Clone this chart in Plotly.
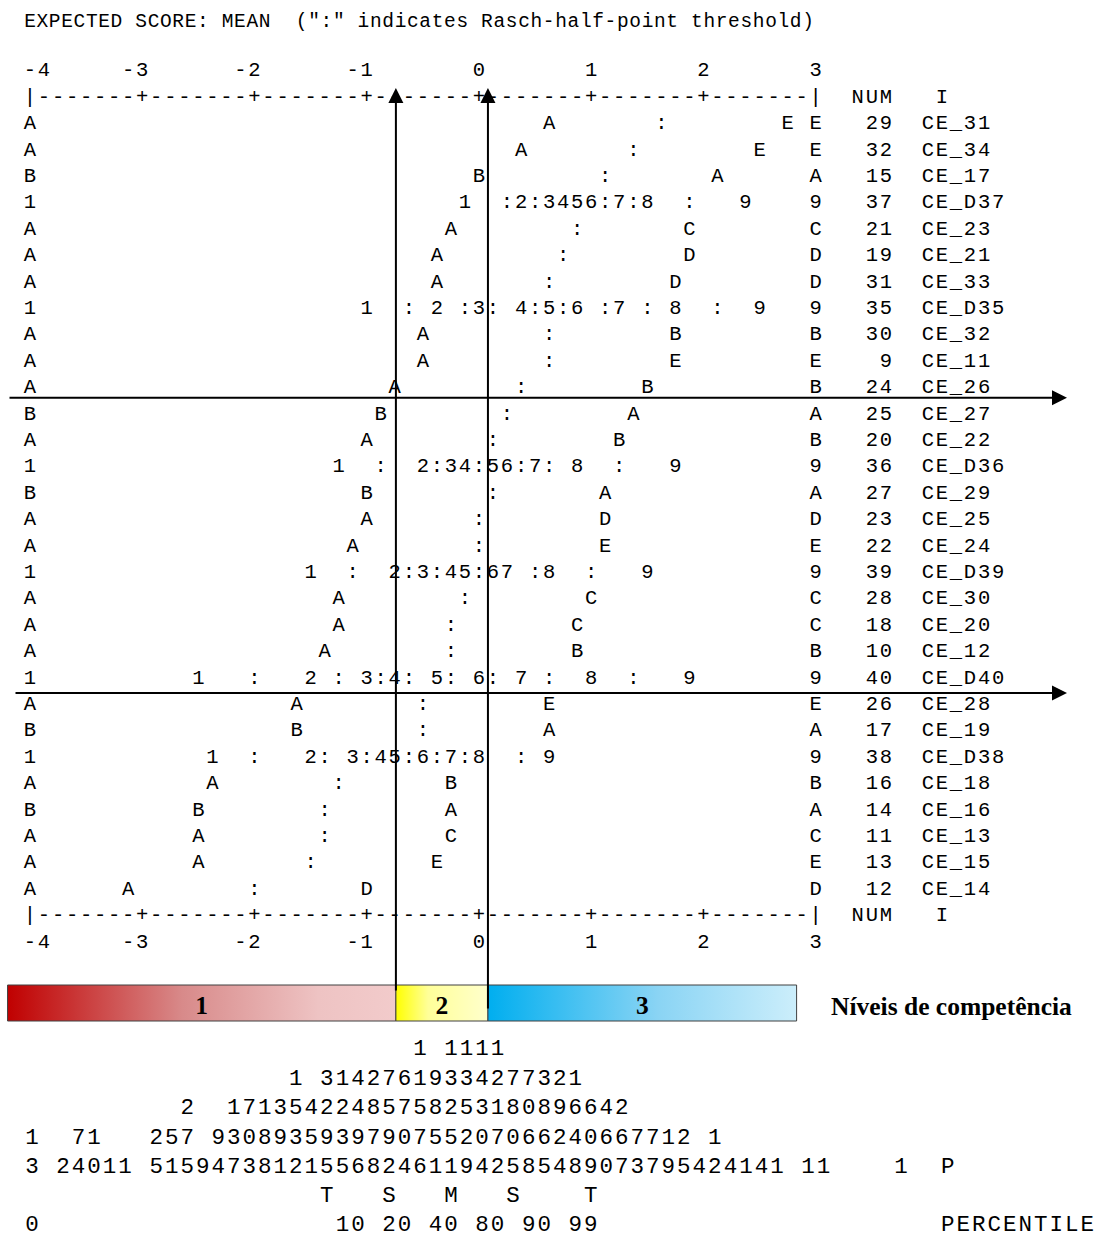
import plotly.graph_objects as go

# ---------------------------------------------------------------- data ----
TICKS = [-4, -3, -2, -1, 0, 1, 2, 3]
COLS_PER_LOGIT = 8          # one printed character = 1/8 logit

HEADER = 'EXPECTED SCORE: MEAN  (":" indicates Rasch-half-point threshold)'

ITEM_NUM = [29, 32, 15, 37, 21, 19, 31, 35, 30, 9, 24, 25, 20, 36, 27,
            23, 22, 39, 28, 18, 10, 40, 26, 17, 38, 16, 14, 11, 13, 12]
ITEM_NAME = ["CE_31", "CE_34", "CE_17", "CE_D37", "CE_23", "CE_21", "CE_33",
             "CE_D35", "CE_32", "CE_11", "CE_26", "CE_27", "CE_22", "CE_D36",
             "CE_29", "CE_25", "CE_24", "CE_D39", "CE_30", "CE_20", "CE_12",
             "CE_D40", "CE_28", "CE_19", "CE_D38", "CE_18", "CE_16", "CE_13",
             "CE_15", "CE_14"]
LOW_CODE = "AAB1AAA1AAABA1BAA1AAA1AB1ABAAA"
HIGH_CODE = "EEA9CDD9BEBAB9ADE9CCB9EA9BACED"

# expected-score marks per item: (logit where the text starts, text)
ITEM_MARKS = [
    [(0.625, "A"), (1.625, ":"), (2.75, "E")],
    [(0.375, "A"), (1.375, ":"), (2.5, "E")],
    [(0.0, "B"), (1.125, ":"), (2.125, "A")],
    [(-0.125, "1"), (0.25, ":2:3456:7:8"), (1.875, ":"), (2.375, "9")],
    [(-0.25, "A"), (0.875, ":"), (1.875, "C")],
    [(-0.375, "A"), (0.75, ":"), (1.875, "D")],
    [(-0.375, "A"), (0.625, ":"), (1.75, "D")],
    [(-1.0, "1"), (-0.625, ":"), (-0.375, "2"), (-0.125, ":3: 4:5:6 :7 : 8"),
     (2.125, ":"), (2.5, "9")],
    [(-0.5, "A"), (0.625, ":"), (1.75, "B")],
    [(-0.5, "A"), (0.625, ":"), (1.75, "E")],
    [(-0.75, "A"), (0.375, ":"), (1.5, "B")],
    [(-0.875, "B"), (0.25, ":"), (1.375, "A")],
    [(-1.0, "A"), (0.125, ":"), (1.25, "B")],
    [(-1.25, "1"), (-0.875, ":"), (-0.5, "2:34:56:7:"), (0.875, "8"),
     (1.25, ":"), (1.75, "9")],
    [(-1.0, "B"), (0.125, ":"), (1.125, "A")],
    [(-1.0, "A"), (0.0, ":"), (1.125, "D")],
    [(-1.125, "A"), (0.0, ":"), (1.125, "E")],
    [(-1.5, "1"), (-1.125, ":"), (-0.75, "2:3:45:67 :8"), (1.0, ":"), (1.5, "9")],
    [(-1.25, "A"), (-0.125, ":"), (1.0, "C")],
    [(-1.25, "A"), (-0.25, ":"), (0.875, "C")],
    [(-1.375, "A"), (-0.25, ":"), (0.875, "B")],
    [(-2.5, "1"), (-2.0, ":"), (-1.5, "2 : 3:4: 5: 6: 7 :"), (1.0, "8"),
     (1.375, ":"), (1.875, "9")],
    [(-1.625, "A"), (-0.5, ":"), (0.625, "E")],
    [(-1.625, "B"), (-0.5, ":"), (0.625, "A")],
    [(-2.375, "1"), (-2.0, ":"), (-1.5, "2: 3:45:6:7:8"), (0.375, ":"), (0.625, "9")],
    [(-2.375, "A"), (-1.25, ":"), (-0.25, "B")],
    [(-2.5, "B"), (-1.375, ":"), (-0.25, "A")],
    [(-2.5, "A"), (-1.375, ":"), (-0.25, "C")],
    [(-2.5, "A"), (-1.5, ":"), (-0.375, "E")],
    [(-3.125, "A"), (-2.0, ":"), (-1.0, "D")],
]

# person distribution and percentiles printed under the map
DIST_ROWS = [
    " " * 25 + "1 1111",
    " " * 17 + "1 31427619334277321",
    " " * 10 + "2  17135422485758253180896642",
    "1  71   257 9308935939790755207066240667712 1",
    "3 24011 51594738121556824611942585489073795424141 11    1  P",
    " " * 19 + "T   S   M   S    T",
    "0" + " " * 19 + "10 20 40 80 90 99" + " " * 22 + "PERCENTILE",
]

# competence levels: cut points on the logit scale
LEVEL_NAMES = ["1", "2", "3"]
LEVEL_EDGES = [-4.2, -0.74, 0.08, 2.83]
LEVEL_COLORS = [
    [[0, "#C00000"], [0.45, "#D88A8A"], [0.8, "#EEC3C3"], [1, "#F2CBCB"]],
    [[0, "#FFFF00"], [0.35, "#FFFF99"], [1, "#FFFFCC"]],
    [[0, "#00AEEF"], [0.55, "#8AD4F4"], [1, "#CCEEFB"]],
]
LEVEL_TITLE = "Níveis de competência"
LEVEL_BREAK_ROWS = [11.37, 22.55]     # horizontal separators between item groups

# ---------------------------------------------------------------- layout --
W, H = 1101, 1234
PX_PER_LOGIT = 112.24          # 8 map columns of 14.03 px
ORIGIN_PX = 30                 # pixel of logit -4
ROW_PX, ROW1_PX = 26.4, 124    # map row pitch and first item row


def px_to_logit(px):
    return -4 + (px - ORIGIN_PX) / PX_PER_LOGIT


def px_to_row(py):
    return (py - ROW1_PX) / ROW_PX + 1


MONO = "Liberation Mono, Courier New, monospace"
SERIF = "Liberation Serif, Times New Roman, serif"

map_x, map_y, map_t = [], [], []


def put(logit, row, text):
    for i, ch in enumerate(text):
        if ch != " ":
            map_x.append(logit + i / COLS_PER_LOGIT)
            map_y.append(row)
            map_t.append(ch)


lo, hi = TICKS[0], TICKS[-1]
n_cols = (hi - lo) * COLS_PER_LOGIT


def scale_rows(rule_row, label_row):
    rule = "".join("|" if c in (0, n_cols) else ("+" if c % COLS_PER_LOGIT == 0 else "-")
                   for c in range(n_cols + 1))
    put(lo, rule_row, rule)
    put(hi + 3 / COLS_PER_LOGIT, rule_row, "NUM")
    put(hi + 9 / COLS_PER_LOGIT, rule_row, "I")
    for v in TICKS:
        s = str(v)
        end = (v - lo) * COLS_PER_LOGIT
        start = max(0, end - len(s) + 1)
        put(lo + start / COLS_PER_LOGIT, label_row, s)


scale_rows(0, -1)
scale_rows(len(ITEM_NUM) + 1, len(ITEM_NUM) + 2)

for i, (num, name, marks) in enumerate(zip(ITEM_NUM, ITEM_NAME, ITEM_MARKS)):
    row = i + 1
    put(lo, row, LOW_CODE[i])
    for logit, txt in marks:
        put(logit, row, txt)
    put(hi, row, HIGH_CODE[i])
    s = str(num)
    put(hi + (6 - len(s)) / COLS_PER_LOGIT, row, s)
    put(hi + 8 / COLS_PER_LOGIT, row, name)

fig = go.Figure()

# competence level bars
bar_top, bar_bot = px_to_row(985), px_to_row(1021)
for k, name in enumerate(LEVEL_NAMES):
    x0, x1 = LEVEL_EDGES[k], LEVEL_EDGES[k + 1]
    fig.add_trace(go.Scatter(
        x=[x0, x1, x1, x0, x0], y=[bar_top, bar_top, bar_bot, bar_bot, bar_top],
        mode="lines", fill="toself",
        fillgradient=dict(type="horizontal", colorscale=LEVEL_COLORS[k]),
        line=dict(color="#404040", width=1), hoverinfo="skip"))
fig.add_trace(go.Scatter(
    x=[(LEVEL_EDGES[k] + LEVEL_EDGES[k + 1]) / 2 for k in range(3)],
    y=[px_to_row(1008)] * 3,
    text=[f"<b>{n}</b>" for n in LEVEL_NAMES], mode="text",
    textposition="middle center",
    textfont=dict(family=SERIF, size=25.5, color="#000"), hoverinfo="skip"))
fig.add_trace(go.Scatter(
    x=[px_to_logit(831)], y=[px_to_row(1009)], text=[f"<b>{LEVEL_TITLE}</b>"],
    mode="text", textposition="middle right",
    textfont=dict(family=SERIF, size=25.5, color="#000"), hoverinfo="skip"))

# item map characters
fig.add_trace(go.Scatter(
    x=map_x, y=map_y, text=map_t, mode="text", textposition="middle center",
    textfont=dict(family=MONO, size=20.5, color="#000"), hoverinfo="skip"))

# header line (narrower pitch)
hx, hy, ht = [], [], []
for c, ch in enumerate(HEADER):
    if ch != " ":
        hx.append(px_to_logit(30 + 12.35 * c))
        hy.append(px_to_row(22))
        ht.append(ch)
fig.add_trace(go.Scatter(
    x=hx, y=hy, text=ht, mode="text", textposition="middle center",
    textfont=dict(family=MONO, size=19.5, color="#000"), hoverinfo="skip"))

# distribution block (wider pitch)
DIST_PY = [1049, 1079, 1108, 1138, 1167, 1196, 1225]
dx, dy, dt = [], [], []
for line, py in zip(DIST_ROWS, DIST_PY):
    for c, ch in enumerate(line):
        if ch != " ":
            dx.append(px_to_logit(32 + 15.52 * c))
            dy.append(px_to_row(py))
            dt.append(ch)
fig.add_trace(go.Scatter(
    x=dx, y=dy, text=dt, mode="text", textposition="middle center",
    textfont=dict(family=MONO, size=22.5, color="#000"), hoverinfo="skip"))

# arrows: level cut points (vertical) and group separators (horizontal)
arrow = dict(xref="x", yref="y", axref="x", ayref="y", text="", showarrow=True,
             arrowhead=2, arrowsize=1.5, arrowwidth=2, arrowcolor="#000", standoff=0)
ann = []
for cut, tail_py in zip(LEVEL_EDGES[1:3], [992, 1010]):
    ann.append(dict(arrow, x=cut, y=px_to_row(88), ax=cut, ay=px_to_row(tail_py)))
for r, start_px in zip(LEVEL_BREAK_ROWS, [8, 14]):
    ann.append(dict(arrow, x=px_to_logit(1067), y=r, ax=px_to_logit(start_px), ay=r))

fig.update_layout(
    width=W, height=H, margin=dict(l=0, r=0, t=0, b=0),
    paper_bgcolor="white", plot_bgcolor="white", showlegend=False,
    annotations=ann,
    xaxis=dict(range=[px_to_logit(0), px_to_logit(W)], visible=False, fixedrange=True),
    yaxis=dict(range=[px_to_row(H), px_to_row(0)], visible=False, fixedrange=True),
)

fig.write_html("out.html")
